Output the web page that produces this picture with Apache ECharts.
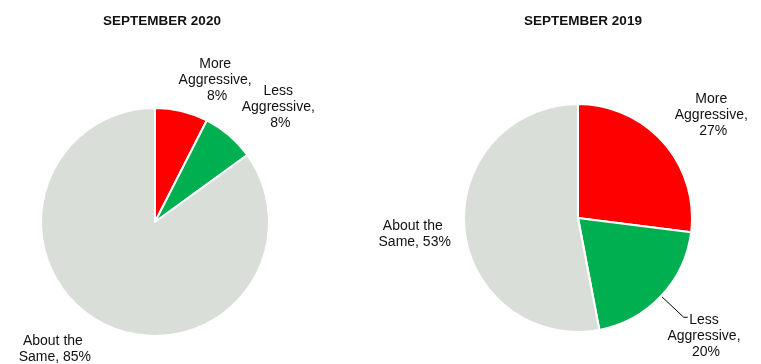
<!DOCTYPE html>
<html><head><meta charset="utf-8">
<script src="https://cdn.jsdelivr.net/npm/echarts@6/dist/echarts.min.js"></script>
<style>html,body{margin:0;padding:0;background:#fff}#c{width:761px;height:364px}</style>
</head><body><div id="c"></div>
<script>
// ---- data ----
const categories = ['More Aggressive', 'Less Aggressive', 'About the Same'];
const values2020 = [7.5, 7.5, 85];
const values2019 = [27, 20, 53];
const chartTitles = ['SEPTEMBER 2020', 'SEPTEMBER 2019'];

// ---- style / layout ----
const sliceColors = ['#FF0000', '#00B050', '#D9DFD8'];
const FONT = '"Liberation Sans", Arial, sans-serif';
const labelNudge = [
  [[20, 13], [17, 6], [-23, -15]],
  [[11, 2], [7, 9], [0, 1]]
];

function buildData(vals, seriesIdx) {
  return categories.map((name, i) => {
    const item = { name: name, value: vals[i], itemStyle: { color: sliceColors[i] } };
    if (seriesIdx === 1 && i === 1) {
      item.labelLine = { show: true };
    }
    return item;
  });
}

function pieSeries(vals, idx, center) {
  return {
    type: 'pie',
    center: center,
    radius: 114,
    startAngle: 90,
    clockwise: true,
    animation: false,
    avoidLabelOverlap: false,
    itemStyle: { borderColor: '#fff', borderWidth: 2 },
    emphasis: { disabled: true },
    label: {
      show: true,
      position: 'outside',
      formatter: p => p.name + ', ' + Math.round(p.value) + '%',
      fontFamily: FONT,
      fontSize: 14,
      lineHeight: 16,
      color: '#111',
      width: 82,
      overflow: 'break',
      align: 'center'
    },
    labelLine: {
      show: false,
      length: 45,
      length2: 0,
      lineStyle: { color: '#000', width: 1 }
    },
    labelLayout: function (params) {
      const n = labelNudge[params.seriesIndex][params.dataIndex];
      const out = { align: 'center', verticalAlign: 'middle', dx: n[0], dy: n[1], hideOverlap: false };
      const pts = params.labelLinePoints;
      if (params.seriesIndex === 1 && params.dataIndex === 1 && pts && pts.length >= 2) {
        const p0 = pts[0], p1 = pts[1];
        const vx = p1[0] - p0[0], vy = p1[1] - p0[1];
        const len = Math.sqrt(vx * vx + vy * vy) || 1;
        const seg = 31;
        const q = [p0[0] + vx / len * seg, p0[1] + vy / len * seg];
        out.labelLinePoints = [[p0[0], p0[1]], q, [q[0] + 4, q[1]]];
      }
      return out;
    },
    data: buildData(vals, idx)
  };
}

const chart = echarts.init(document.getElementById('c'), null, { renderer: 'canvas' });
chart.setOption({
  backgroundColor: '#fff',
  animation: false,
  title: [
    { text: chartTitles[0], left: 157, top: 9, textAlign: 'center',
      textStyle: { fontFamily: FONT, fontSize: 13.5, fontWeight: 'bold', color: '#111' } },
    { text: chartTitles[1], left: 578, top: 9, textAlign: 'center',
      textStyle: { fontFamily: FONT, fontSize: 13.5, fontWeight: 'bold', color: '#111' } }
  ],
  series: [
    pieSeries(values2020, 0, [155, 222]),
    pieSeries(values2019, 1, [578, 218])
  ]
});
</script></body></html>
